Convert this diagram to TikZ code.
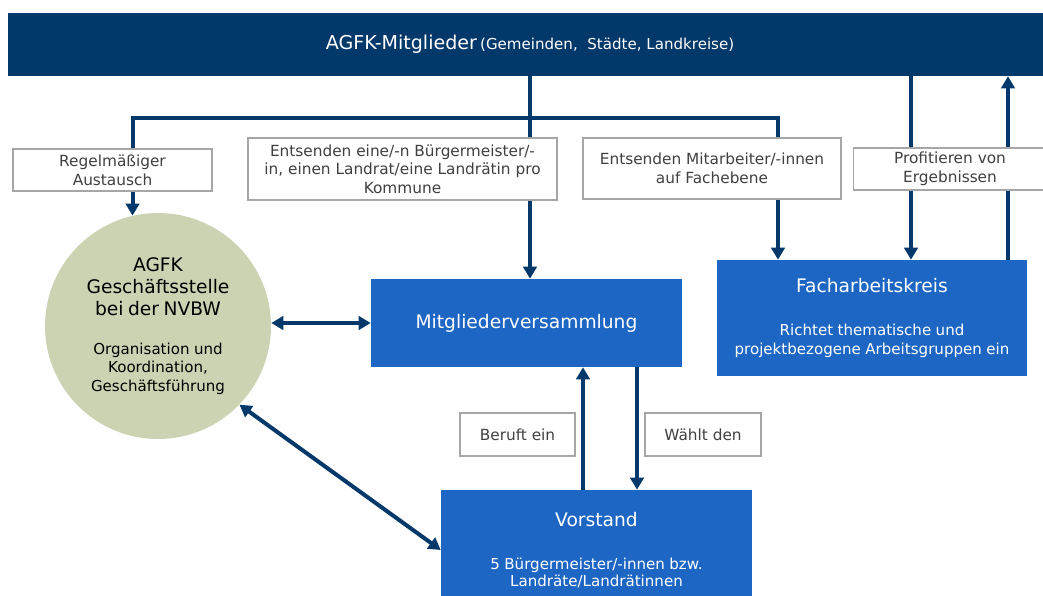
\documentclass[tikz,border=0pt]{standalone}
\usepackage{fontspec}
\setmainfont{DejaVu Sans}
\usetikzlibrary{arrows.meta,backgrounds}

\definecolor{agfknavy}{HTML}{02386A}
\definecolor{agfkblue}{HTML}{1E66C3}
\definecolor{agfkgreen}{HTML}{CCD3B3}
\definecolor{agfkgrey}{HTML}{A6A6A6}
\definecolor{agfktext}{HTML}{404040}

\begin{document}
\begin{tikzpicture}[x=0.75pt,y=-0.75pt]
	
	% ------------------------------------------------------------
	% Styles
	% ------------------------------------------------------------
	\tikzset{
		bar/.style={fill=agfknavy,text=white,inner sep=0pt,
			minimum width=783pt,minimum height=47.25pt},
		bluebox/.style={fill=agfkblue,text=white,inner sep=0pt,align=center},
		greybox/.style={draw=agfkgrey,line width=0.8pt,fill=white,text=agfktext,
			inner sep=0pt,align=center,font=\fontsize{11.5}{14}\selectfont},
		office/.style={circle,fill=agfkgreen,text=black,inner sep=0pt,
			minimum size=169.5pt,align=center,text width=125pt},
		titlefont/.style={font=\fontsize{14}{16.5}\selectfont},
		link/.style={draw=agfknavy,line width=3pt},
		conn/.style={link,-{Triangle[length=9pt,width=10pt]}},
		dbl/.style={link,{Triangle[length=9pt,width=10pt]}-{Triangle[length=9pt,width=10pt]}}
	}
	
	\useasboundingbox (0,0) rectangle (1043,596);
	
	% ============================================================
	% TOP: members bar
	% ============================================================
	\node[bar] (bar) at (530,44.5)
	{\fontsize{14.3}{16.5}\selectfont AGFK-Mitglieder\,{\fontsize{11.3}{13}\selectfont(Gemeinden,~ Städte, Landkreise)}};
	
	% Grey label boxes below the bar
	\node[greybox,minimum width=149.25pt,minimum height=31.5pt] (reg) at (112.5,170)
	{Regelmäßiger\\Austausch};
	\node[greybox,minimum width=231.75pt,minimum height=46.5pt] (sendbm) at (402.5,169)
	{Entsenden eine/-n Bürgermeister/-\\in, einen Landrat/eine Landrätin pro\\Kommune};
	\node[greybox,minimum width=193.5pt,minimum height=45.75pt] (sendma) at (712,168.5)
	{Entsenden Mitarbeiter/-innen\\auf Fachebene};
	\node[greybox,minimum width=144.75pt,minimum height=31.5pt] (prof) at (950,169)
	{Profitieren von\\Ergebnissen};
	
	% ============================================================
	% MIDDLE: office, assembly, working group
	% ============================================================
	\node[office] (office) at (158,326)
	{{\fontsize{14}{16.5}\selectfont AGFK\\Geschäftsstelle\\bei der NVBW\par}\vspace{15pt}%
		{\fontsize{11.3}{13.9}\selectfont Organisation und\\Koordination,\\Geschäftsführung\par}};
	
	\node[bluebox,titlefont,minimum width=233.25pt,minimum height=66pt] (mv) at (526.5,323)
	{Mitgliederversammlung};
	
	\node[bluebox,minimum width=232.5pt,minimum height=87pt,text width=225pt] (fak) at (872,318)
	{{\fontsize{14}{16.5}\selectfont Facharbeitskreis\par}\vspace{18pt}%
		{\fontsize{11.3}{14.25}\selectfont Richtet thematische und\\projektbezogene Arbeitsgruppen ein\par}};
	
	% ============================================================
	% BOTTOM: board
	% ============================================================
	\node[greybox,minimum width=86.25pt,minimum height=32.25pt] (beruft) at (517.5,434.5)
	{Beruft ein};
	\node[greybox,minimum width=87pt,minimum height=32.25pt] (waehlt) at (703,434.5)
	{Wählt den};
	
	\node[bluebox,minimum width=233.25pt,minimum height=90pt,text width=225pt] (vor) at (596.5,550)
	{{\fontsize{14}{16.5}\selectfont Vorstand\par}\vspace{19pt}%
		{\fontsize{11.3}{12.75}\selectfont 5 Bürgermeister/-innen bzw.\\Landräte/Landrätinnen\par}};
	
	% Junctions of the connector lines
	\coordinate (jm) at (530,118);
	\coordinate (jr) at (778,118);
	\coordinate (xp) at (911,118);
	\coordinate (xq) at (1008,118);
	\coordinate (xa) at (583,430);
	\coordinate (xb) at (637,430);
	
	% ============================================================
	% Connectors (behind the boxes)
	% ============================================================
	\begin{scope}[on background layer]
		\draw[conn] (bar.south -| jm) -- (mv.north -| jm);
		\draw[conn] (jm) -| (office.103);
		\draw[conn] (jm) -| (fak.north -| jr);
		
		\draw[conn] (bar.south -| xp) -- (fak.north -| xp);
		\draw[conn] (fak.north -| xq) -- (bar.south -| xq);
		
		\draw[dbl] (mv.west -| office.east) -- (mv.west);
		\draw[dbl] (office.-44) -- (vor.west);
		
		\draw[conn] (vor.north -| xa) -- (mv.south -| xa);
		\draw[conn] (mv.south -| xb) -- (vor.north -| xb);
	\end{scope}
	
\end{tikzpicture}
\end{document}
